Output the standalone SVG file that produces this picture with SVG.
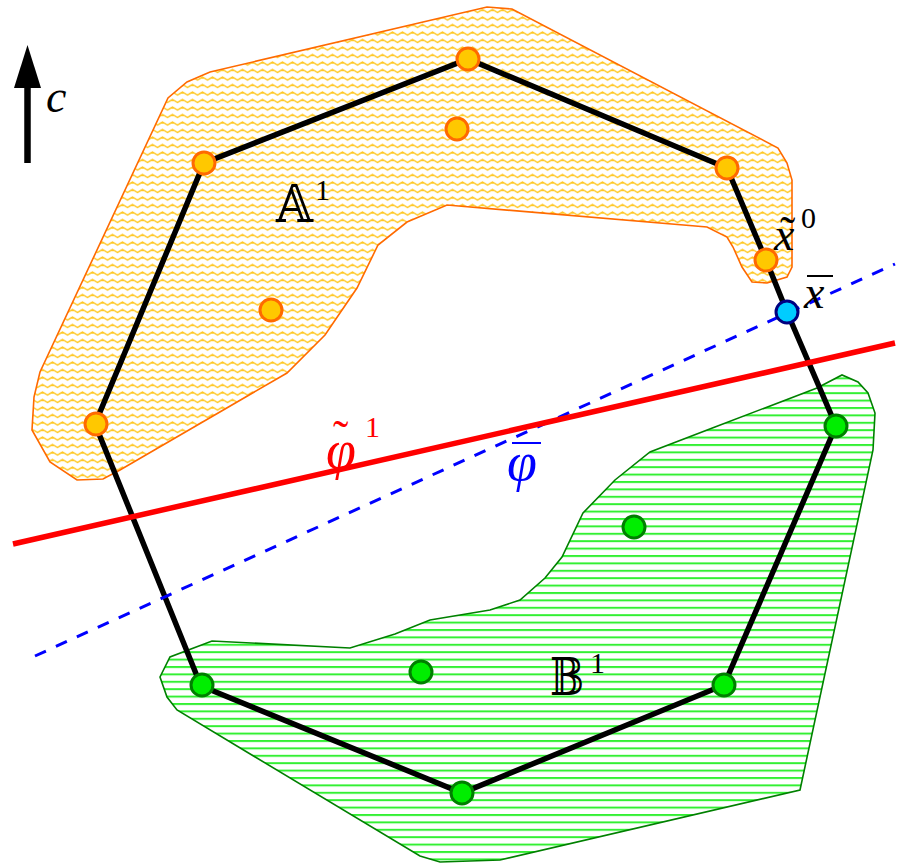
<svg xmlns="http://www.w3.org/2000/svg" width="900" height="866" viewBox="0 0 900 866">
<defs>
<pattern id="wave" width="10" height="7.5" patternUnits="userSpaceOnUse">
<path d="M-2.5,5 L2.5,2 L7.5,5 L12.5,2" fill="none" stroke="#ffc926" stroke-width="1.5" stroke-linejoin="round"/>
</pattern>
<pattern id="hlines" width="8" height="7.4" patternUnits="userSpaceOnUse">
<rect x="0" y="0" width="8" height="2" fill="#33f033"/>
</pattern>
<style>
.m{font-family:"Liberation Serif","DejaVu Serif",serif;font-style:italic;font-size:46px;}
.acc{font-style:normal;font-size:46px;}
.n{font-family:"Liberation Serif","DejaVu Serif",serif;font-style:normal;font-size:30px;}
.bb{font-family:"DejaVu Serif","DejaVu Sans","Noto Sans",serif;font-size:52px;}
.po{fill:#ffc800;stroke:#ff6a00;stroke-width:3;}
.pg{fill:#00ee00;stroke:#008000;stroke-width:3;}
.pb{fill:#00ccff;stroke:#000080;stroke-width:3;}
</style>
</defs>
<rect width="900" height="866" fill="#fff"/>
<g id="regionA">
<path d="M210,72 L487,7 L512,9 L778,148 L787,163 L792,180 L792,267 L787,277 L767,283 L752,282 L742,267 L733,247 L727,237 L707,227 L447,205 L407,222 L378,245 L357,288 L325,335 L287,373 L120,470 L103,479 L77,480 L50,462 L32,430 L34,397 L40,372 L168,98 L187,82 Z" fill="url(#wave)" stroke="#ff6a00" stroke-width="1.6"/>
</g>
<g id="regionB">
<path d="M817,388 L842,375 L858,382 L868,393 L875,413 L873,450 L800,790 L500,860 L440,862 L420,856 L177,710 L167,697 L160,677 L170,657 L212,641 L350,648 L395,634 L430,620 L490,610 L520,600 L545,578 L562,557 L583,513 L615,480 L650,452 L715,427 Z" fill="url(#hlines)" stroke="#008000" stroke-width="1.6"/>
</g>
<g id="connectors">
<polygon points="204,163 468,59 727,168 766,260 787,312 836,426 724,685 462,793 201,686 95,424" fill="none" stroke="#000" stroke-width="5.5" stroke-linejoin="miter"/>
<line x1="35" y1="656" x2="895" y2="264" stroke="#0000ff" stroke-width="3" stroke-dasharray="12,11"/>
<line x1="13" y1="544" x2="895" y2="343" stroke="#ff0000" stroke-width="5.5"/>
<line x1="27.5" y1="163" x2="27.5" y2="80" stroke="#000" stroke-width="6.5"/>
<polygon points="27.5,45 41,88 14,88" fill="#000"/>
</g>
<g id="nodesA">
<circle cx="204" cy="163" r="11" class="po"/>
<circle cx="468" cy="59" r="11" class="po"/>
<circle cx="727" cy="168" r="11" class="po"/>
<circle cx="766" cy="260" r="11" class="po"/>
<circle cx="96" cy="424" r="11" class="po"/>
<circle cx="457" cy="129" r="11" class="po"/>
<circle cx="271" cy="310" r="11" class="po"/>
</g>
<g id="nodeXbar">
<circle cx="787" cy="312" r="11" class="pb"/>
</g>
<g id="nodesB">
<circle cx="836" cy="426" r="11" class="pg"/>
<circle cx="724" cy="685" r="11" class="pg"/>
<circle cx="462" cy="793" r="11" class="pg"/>
<circle cx="202" cy="685" r="11" class="pg"/>
<circle cx="634" cy="527" r="11" class="pg"/>
<circle cx="421" cy="672" r="11" class="pg"/>
</g>
<g id="labels">
<text x="46" y="112" class="m">c</text>
<text class="bb"><tspan x="276" y="222" textLength="37" lengthAdjust="spacingAndGlyphs">𝔸</tspan><tspan class="n" x="315" y="200">1</tspan></text>
<text class="bb"><tspan x="550" y="695" textLength="34" lengthAdjust="spacingAndGlyphs">𝔹</tspan><tspan class="n" x="590" y="673">1</tspan></text>
<text class="m"><tspan x="774" y="250">x</tspan><tspan class="acc" x="780" y="248">˜</tspan><tspan class="n" x="801" y="228">0</tspan></text>
<text x="804" y="308" class="m">x</text>
<line x1="807" y1="276" x2="833" y2="276" stroke="#000" stroke-width="2"/>
<text class="m" fill="#ff0000"><tspan x="326" y="468" font-size="54">φ</tspan><tspan class="acc" x="333" y="452">˜</tspan><tspan class="n" x="365" y="437">1</tspan></text>
<text x="507" y="480" class="m" fill="#0000ff" style="font-size:54px">φ</text>
<line x1="512" y1="443" x2="541" y2="443" stroke="#0000ff" stroke-width="2"/>
</g>
</svg>
